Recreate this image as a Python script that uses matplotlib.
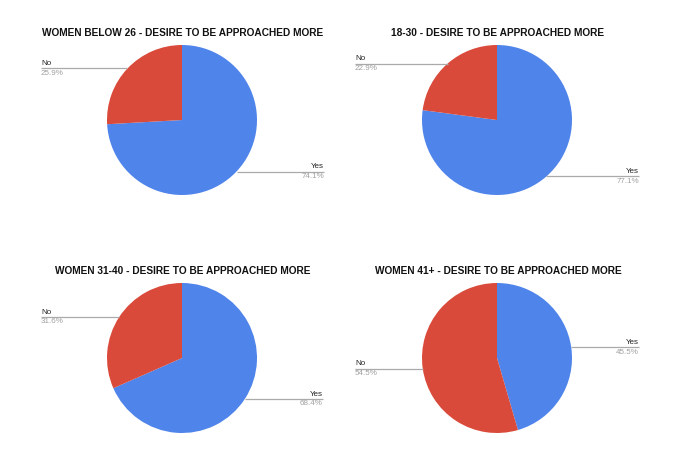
import numpy as np
import matplotlib.pyplot as plt

# survey answers per age group (percent)
titles = ["WOMEN BELOW 26 - DESIRE TO BE APPROACHED MORE",
          "18-30 - DESIRE TO BE APPROACHED MORE",
          "WOMEN 31-40 - DESIRE TO BE APPROACHED MORE",
          "WOMEN 41+ - DESIRE TO BE APPROACHED MORE"]
labels = ["Yes", "No"]
yes_pct = [74.1, 77.1, 68.4, 45.5]
no_pct = [25.9, 22.9, 31.6, 54.5]

colors = ["#4f84ea", "#d94a3a"]
W, H = 680, 470

fig = plt.figure(figsize=(6.8, 4.7), dpi=100)
ax = fig.add_axes([0, 0, 1, 1])

# pixel layout of the 2x2 grid (from top-left)
centers = [(182, 120), (497, 120), (182, 358), (497, 358)]
radius = 75
left_x = [41, 355, 41, 355]
right_x = [324, 639, 323, 639]

for i in range(4):
    cx, cy = centers[i]
    vals = [yes_pct[i], no_pct[i]]
    ax.pie(vals, colors=colors, startangle=90, counterclock=False,
           center=(cx, H - cy), radius=radius,
           wedgeprops=dict(linewidth=0))
    ax.text(cx + 1, H - cy + 87, titles[i], ha='center', va='center',
            fontsize=7.3, fontweight='bold', family='Liberation Sans', color='#111111')

    # leader lines from slice mid-angle on the rim
    start = 90.0
    for j, v in enumerate(vals):
        sweep = v / 100.0 * 360.0
        mid = np.deg2rad(start - sweep / 2)
        start -= sweep
        px = cx + radius * np.cos(mid)
        py = H - cy + radius * np.sin(mid)
        if np.cos(mid) >= 0:
            x_end = right_x[i]
            ha = 'right'
        else:
            x_end = left_x[i]
            ha = 'left'
        ax.plot([px, x_end], [py, py], color='#aaaaaa', lw=0.9, solid_capstyle='butt')
        ax.text(x_end, py + 4.8, labels[j], ha=ha, va='center', fontsize=5.8,
                family='Liberation Sans', color='#222222')
        ax.text(x_end, py - 4.8, "{0:.1f}%".format(v), ha=ha, va='center', fontsize=5.8,
                family='Liberation Sans', color='#a0a0a0')

ax.set_xlim(0, W)
ax.set_ylim(0, H)
ax.set_aspect('auto')
ax.axis('off')

fig.savefig("out.png", dpi=100, facecolor='white')
